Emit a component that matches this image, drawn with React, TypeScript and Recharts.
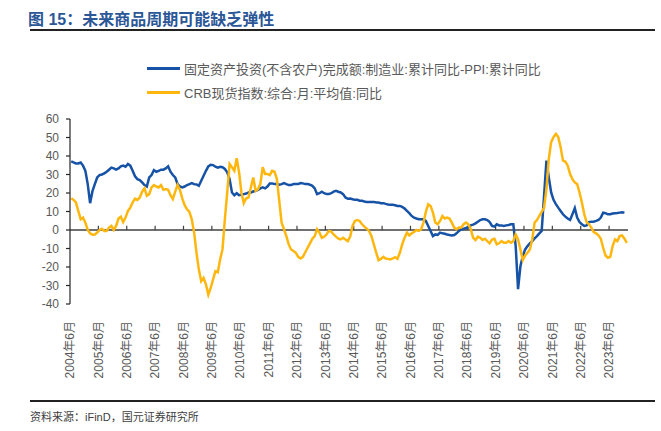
import React from 'react';
import { LineChart, Line, XAxis, YAxis, ReferenceLine } from 'recharts';

// x 轴：从 2004年6月 起按月排列，每 12 个月一个刻度
const yearLabels = [
  '2004年6月', '2005年6月', '2006年6月', '2007年6月', '2008年6月',
  '2009年6月', '2010年6月', '2011年6月', '2012年6月', '2013年6月',
  '2014年6月', '2015年6月', '2016年6月', '2017年6月', '2018年6月',
  '2019年6月', '2020年6月', '2021年6月', '2022年6月', '2023年6月',
];

const yTicks = [-40, -30, -20, -10, 0, 10, 20, 30, 40, 50, 60];

// 固定资产投资(不含农户)完成额:制造业:累计同比-PPI:累计同比
const faiMinusPpi = [
  37.1, 36.5, 36, 36, 36.5, 34.8, 32, 24.8, 14.5, 21, 24.8, 28.4,
  29.7, 30, 30.6, 31.5, 32.6, 33.7, 33.3, 32.6, 33.3, 34.4, 34.8, 34.2,
  35.7, 34.8, 32, 29, 27.5, 27, 25.7, 24.3, 23.5, 28.4, 29.7, 32.4,
  31.5, 32, 32.6, 32.6, 33.3, 34.4, 31.5, 29.7, 28.4, 24.8, 23.5, 23,
  23.5, 24.3, 24.8, 25.4, 24.8, 24.6, 23.9, 26.6, 29.3, 32, 34.4, 35.3,
  35.1, 34.2, 33.7, 34.2, 33.9, 33, 31.2, 27.5, 20.3, 18.8, 19.9, 18.8,
  19, 19.4, 19.7, 20.3, 20.3, 20.8, 21.2, 21.7, 22.5, 23, 22.5, 23.5,
  25.2, 25.2, 24.8, 24.8, 24.5, 24.8, 25.4, 24.8, 24.3, 24.3, 24.8, 24.8,
  24.8, 25.4, 25.2, 24.8, 24.8, 24.5, 23.9, 22.5, 19.4, 19.9, 20.7, 19.9,
  19.4, 19.4, 19.9, 20.7, 21.2, 20.7, 20.3, 19.4, 17.6, 16.9, 17, 16.6,
  16.3, 16.3, 15.8, 15.8, 15.4, 15.2, 15.2, 15.2, 15.2, 14.9, 14.9, 14.5,
  14.5, 14.1, 13.8, 13.6, 13.6, 13.4, 13, 13, 12.5, 11.6, 10.3, 9.1,
  7.6, 6.7, 6.2, 5.8, 5.8, 5.8, 4.9, 2.2, -0.5, -3.3, -2.4, -2.7,
  -1.4, -1.8, -2, -2.4, -2.7, -2.9, -2.7, -1.8, -0.5, 0.4, 0.7, 1.1,
  1.3, 2.5, 2.9, 3.6, 4.5, 5.4, 5.8, 5.8, 5.4, 4.3, 2.2, 1.8,
  3.1, 2.5, 2.5, 2.2, 2.5, 2.7, 3.1, 3.1, -8.7, -32, -19.6, -14.1,
  -10.5, -8.7, -7.2, -6, -4.5, -3.3, -1.8, -0.5, 18.5, 37.5, 28.4, 20.3,
  16.3, 14, 12.1, 10.3, 8.5, 7.2, 6.2, 5.4, 8.5, 11.8, 6.7, 4.3,
  3.1, 2.2, 2.5, 4.3, 4.5, 4.5, 4.9, 5.4, 6.7, 9.4, 9.1, 8.5,
  8.5, 8.9, 9.1, 9.2, 9.4, 9.6, 9.4,
];

// CRB现货指数:综合:月:平均值:同比
const crbYoy = [
  17.2, 16.3, 14.9, 10.3, 5.8, 6.7, 4, 0, -1.8, -2.5, -2.4, -1.4,
  0, 0.7, -0.5, -0.5, 1.3, 2.2, 0, 2.2, 6.2, 7.2, 4.3, 6.7,
  10.3, 12.1, 14.9, 17, 16.3, 17.6, 20.7, 22.5, 18.5, 19.4, 23, 24.3,
  23.5, 23, 24.3, 21.7, 22.1, 21.7, 18.8, 16.7, 20.7, 24.3, 21.7, 17,
  13.4, 11.2, 9.8, 5.8, -1.4, -12.3, -21.4, -27.7, -25.9, -29.5, -35, -31.3,
  -26.8, -22.3, -22.8, -15.9, -10.5, 5.8, 20.3, 35.7, 33.9, 32, 38.8, 31.2,
  20.3, 14.5, 17, 17.6, 23, 28.4, 21.2, 22.1, 24.8, 33.9, 30.3, 30.3,
  29.7, 32, 31.5, 27.5, 15.8, 4, 0.4, -3.3, -7.8, -10.5, -11.4, -12.3,
  -14.5, -15.4, -14.5, -12, -9.6, -7.2, -4.7, -3.3, 0.4, -1.4, -4.2, -3.6,
  -2.4, -0.5, -0.9, -2.4, -3.6, -4.7, -5.1, -4.2, -5.1, -6, -3.6, 2.2,
  4.9, 5.4, 4.9, 3.1, 1.8, 0.7, -0.5, -3.3, -7.8, -12.3, -16.3, -15.6,
  -14.5, -15.4, -15.6, -15.9, -15.4, -14.7, -15.6, -12.3, -7.8, -4.2, -1.4, -2.9,
  -1.8, -1.1, 0, -0.5, 0.4, 4, 9.8, 13.9, 13, 9.4, 4, 3.1,
  4.9, 7.6, 6.2, 6.7, 6.2, 4, 1.3, 0.4, 1.3, 1.3, 3.1, 4,
  3.1, 0.4, -4.2, -5.4, -3.6, -4.2, -5.4, -4.7, -6, -7.2, -5.1, -4.7,
  -7.8, -7.2, -6, -6.9, -6.9, -6, -6.9, -6, -2.4, -5.1, -10.5, -16.3,
  -13.8, -12.3, -10.5, -5.1, 4, 5.4, 7.6, 9.8, 12.1, 22.1, 38.4, 47.5,
  50.2, 52, 50.2, 44.7, 37.5, 37, 34.8, 30.3, 27.5, 25.7, 24.8, 20.3,
  14.9, 8.5, 4.3, 3.1, 1.3, -1.1, -1.8, -2.9, -4.7, -9.6, -13.8, -15,
  -14.5, -8.7, -5.1, -6, -3.3, -2.9, -4.7, -6.9,
];

const BLUE = '#1652a5';
const YELLOW = '#ffb70f';
const FONT = "'Liberation Sans', Arial, 'Noto Sans CJK SC', sans-serif";

const data = crbYoy.map((v, i) => ({
  m: i,
  fai: i < faiMinusPpi.length ? faiMinusPpi[i] : null,
  crb: v,
}));

const xTicks = yearLabels.map((_, i) => i * 12 - 0.5);

const YearTick = (props: any) => {
  const { x, y, payload } = props;
  const idx = Math.round((payload.value + 0.5) / 12);
  return (
    <text
      x={x}
      y={y}
      dy="0.35em"
      transform={`rotate(-90, ${x}, ${y})`}
      textAnchor="end"
      fill="#595959"
      fontSize={12}
      fontFamily={FONT}
    >
      {yearLabels[idx]}
    </text>
  );
};

const LegendRow = ({ color, label, top }: { color: string; label: string; top: number }) => (
  <div style={{ position: 'absolute', left: 147, top, height: 16, display: 'flex', alignItems: 'center' }}>
    <div style={{ width: 33, height: 3, background: color, marginRight: 4 }} />
    <span style={{ fontSize: 13, color: '#595959', fontFamily: FONT, whiteSpace: 'nowrap' }}>{label}</span>
  </div>
);

export default function App() {
  return (
    <div style={{ position: 'absolute', left: 0, top: 0, width: 661, height: 431, background: '#fff', fontFamily: FONT }}>
      <div style={{ position: 'absolute', left: 28, top: 6, fontSize: 16, fontWeight: 'bold', color: '#2b5797', whiteSpace: 'nowrap' }}>
        图 15：未来商品周期可能缺乏弹性
      </div>
      <div style={{ position: 'absolute', left: 30, top: 29, width: 625, height: 2, background: '#222' }} />

      <LegendRow color={BLUE} label="固定资产投资(不含农户)完成额:制造业:累计同比-PPI:累计同比" top={60} />
      <LegendRow color={YELLOW} label="CRB现货指数:综合:月:平均值:同比" top={84} />

      <LineChart
        width={661}
        height={431}
        data={data}
        margin={{ top: 119, right: 33, bottom: 47, left: 10 }}
        style={{ position: 'absolute', left: 0, top: 0 }}
      >
        <XAxis
          dataKey="m"
          type="number"
          domain={[-0.5, 235.5]}
          ticks={xTicks}
          interval={0}
          axisLine={false}
          tickLine={false}
          height={80}
          tick={<YearTick />}
          tickMargin={11}
        />
        <YAxis
          type="number"
          domain={[-40, 60]}
          ticks={yTicks}
          interval={0}
          width={60}
          tickSize={4}
          tickMargin={7}
          axisLine={{ stroke: '#262626', strokeWidth: 1.2 }}
          tickLine={{ stroke: '#262626', strokeWidth: 1.2 }}
          tick={{ fill: '#595959', fontSize: 12, fontFamily: FONT }}
        />
        <ReferenceLine y={0} stroke="#404040" strokeWidth={1.5} />
        {xTicks.slice(1).map((t) => (
          <ReferenceLine
            key={t}
            segment={[{ x: t, y: 0 }, { x: t, y: 2.3 }]}
            stroke="#404040"
            strokeWidth={1.2}
          />
        ))}
        <Line
          type="linear"
          dataKey="fai"
          stroke={BLUE}
          strokeWidth={2.5}
          dot={false}
          activeDot={false}
          connectNulls={false}
          isAnimationActive={false}
        />
        <Line
          type="linear"
          dataKey="crb"
          stroke={YELLOW}
          strokeWidth={2.5}
          dot={false}
          activeDot={false}
          isAnimationActive={false}
        />
      </LineChart>

      <div style={{ position: 'absolute', left: 30, top: 400, width: 625, height: 2, background: '#222' }} />
      <div style={{ position: 'absolute', left: 30, top: 408, fontSize: 11, color: '#404040', whiteSpace: 'nowrap' }}>
        资料来源：iFinD，国元证券研究所
      </div>
    </div>
  );
}
